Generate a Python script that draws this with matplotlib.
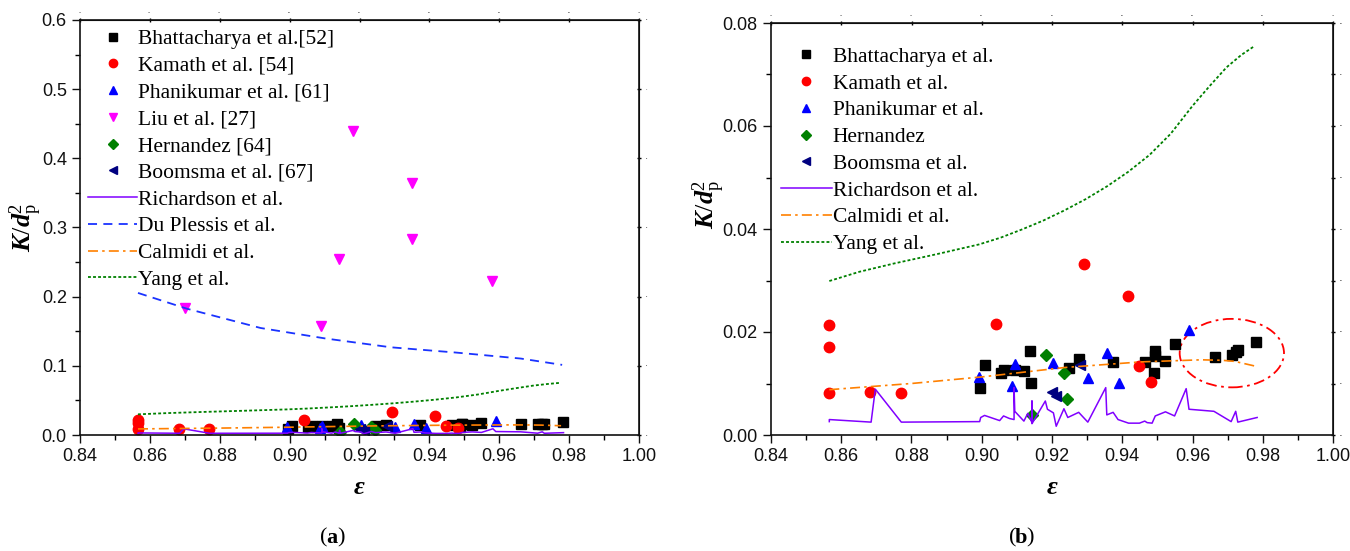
import matplotlib
matplotlib.use('Agg')
from matplotlib import pyplot as plt
from matplotlib.patches import Ellipse
from matplotlib.ticker import MultipleLocator, FormatStrFormatter

plt.rcParams['mathtext.fontset'] = 'custom'
plt.rcParams['mathtext.rm'] = 'Liberation Serif'
plt.rcParams['mathtext.it'] = 'Liberation Serif:italic'
plt.rcParams['mathtext.bf'] = 'Liberation Serif:bold'
plt.rcParams['mathtext.bfit'] = 'Liberation Serif:italic:bold'

# experimental data (porosity eps, K/dp^2)
eps_bh = [0.8994, 0.9008, 0.9054, 0.9063, 0.9094, 0.9120, 0.9136, 0.9141, 0.9248, 0.9276, 0.9374,
          0.9464, 0.9492, 0.9492, 0.9489, 0.9523, 0.9549, 0.9663, 0.9712, 0.9723, 0.9729, 0.9782]
k_bh = [0.0092, 0.0135, 0.0121, 0.0126, 0.0127, 0.0124, 0.0163, 0.0101, 0.0130, 0.0148, 0.0141,
        0.0141, 0.0163, 0.0153, 0.0121, 0.0143, 0.0177, 0.0152, 0.0156, 0.0161, 0.0166, 0.0181]

eps_ka = [0.8566, 0.8566, 0.8566, 0.8683, 0.8769, 0.9041, 0.9292, 0.9415, 0.9447, 0.9481]
k_ka = [0.0214, 0.0170, 0.0081, 0.0083, 0.0081, 0.0216, 0.0333, 0.0270, 0.0134, 0.0102]

eps_ph = [0.8992, 0.9087, 0.9094, 0.9203, 0.9302, 0.9356, 0.9390, 0.9590]
k_ph = [0.0113, 0.0095, 0.0137, 0.0139, 0.0111, 0.0159, 0.0101, 0.0203]

eps_liu = [0.8700, 0.9091, 0.9141, 0.9180, 0.9349, 0.9349, 0.9579]
k_liu = [0.183, 0.157, 0.254, 0.439, 0.364, 0.283, 0.222]

eps_he = [0.9143, 0.9183, 0.9233, 0.9244]
k_he = [0.0039, 0.0156, 0.0121, 0.0070]

eps_bo = [0.9200, 0.9212, 0.9280]
k_bo = [0.0083, 0.0075, 0.0135]

# correlations
eps_ri = [0.8566, 0.8566, 0.8685, 0.8697, 0.8771, 0.8994, 0.8997, 0.9008, 0.9051, 0.9062, 0.9079,
          0.9092, 0.9092, 0.9094, 0.9120, 0.9131, 0.9143, 0.9143, 0.9143, 0.9181, 0.9187, 0.9204,
          0.9212, 0.9234, 0.9245, 0.9276, 0.9302, 0.9353, 0.9356, 0.9374, 0.9388, 0.9418, 0.9449,
          0.9464, 0.9471, 0.9485, 0.9494, 0.9523, 0.9549, 0.9582, 0.9590, 0.9661, 0.9710, 0.9723,
          0.9729, 0.9784]
k_ri = [0.0026, 0.0030, 0.0025, 0.0089, 0.0025, 0.0026, 0.0034, 0.0038, 0.0028, 0.0037, 0.0032,
        0.0030, 0.0092, 0.0046, 0.0027, 0.0042, 0.0024, 0.0066, 0.0022, 0.0066, 0.0050, 0.0043,
        0.0017, 0.0051, 0.0034, 0.0044, 0.0025, 0.0092, 0.0039, 0.0044, 0.0030, 0.0023, 0.0023,
        0.0027, 0.0024, 0.0023, 0.0037, 0.0045, 0.0037, 0.0090, 0.0050, 0.0046, 0.0026, 0.0046,
        0.0025, 0.0034]

eps_du = [0.8566, 0.8706, 0.8917, 0.9103, 0.9290, 0.9476, 0.9662, 0.9780]
k_du = [0.2054, 0.1826, 0.1547, 0.1395, 0.1268, 0.1192, 0.1105, 0.1014]

eps_ca = [0.8566, 0.8800, 0.9003, 0.9235, 0.9454, 0.9625, 0.9685, 0.9720, 0.9777]
k_ca = [0.0088, 0.0100, 0.0113, 0.0131, 0.0142, 0.0146, 0.0145, 0.0143, 0.0134]

eps_ya = [0.8566, 0.8652, 0.8750, 0.8871, 0.8992, 0.9053, 0.9114, 0.9174, 0.9235, 0.9296,
          0.9357, 0.9417, 0.9478, 0.9538, 0.9600, 0.9648, 0.9697, 0.9739, 0.9776]
k_ya = [0.0299, 0.0317, 0.0333, 0.0351, 0.0370, 0.0383, 0.0399, 0.0416, 0.0436, 0.0458,
        0.0483, 0.0511, 0.0544, 0.0585, 0.0639, 0.0677, 0.0714, 0.0738, 0.0755]

# highlight ellipse in (b): centre, width, height
ell_xy = (0.9712, 0.0159)
ell_w, ell_h = 0.0297, 0.0133

serif = ['Liberation Serif', 'DejaVu Serif']
sans = ['Liberation Sans', 'DejaVu Sans']


def style_axes(ax, ymax, ymaj, yfmt, label_xy):
    ax.set_xlim(0.84, 1.00)
    ax.set_ylim(0, ymax)
    ax.xaxis.set_major_locator(MultipleLocator(0.02))
    ax.xaxis.set_minor_locator(MultipleLocator(0.01))
    ax.yaxis.set_major_locator(MultipleLocator(ymaj))
    ax.yaxis.set_minor_locator(MultipleLocator(ymaj / 2))
    ax.xaxis.set_major_formatter(FormatStrFormatter('%.2f'))
    ax.yaxis.set_major_formatter(FormatStrFormatter(yfmt))
    ax.tick_params(which='major', direction='out', length=6, width=1.0, labelsize=13, colors='#111111')
    ax.tick_params(which='minor', direction='out', length=3.5, width=1.0)
    for lab in ax.get_xticklabels() + ax.get_yticklabels():
        lab.set_family(sans)
    for s in ax.spines.values():
        s.set_linewidth(1.2)
        s.set_color('#111111')
    for sec in (ax.secondary_xaxis('top'), ax.secondary_yaxis('right')):
        sec.tick_params(which='both', direction='inout', length=3, width=1.0, labelsize=0)
    ax.set_xlabel('ε', family=serif, style='italic', weight='bold', fontsize=19, labelpad=8)
    ax.set_ylabel(r'$\mathbfit{K}/\mathbfit{d}_{\mathrm{p}}^{2}$', fontsize=19)
    ax.yaxis.set_label_coords(*label_xy)


def plot_data(ax, with_liu):
    ms = 7
    ax.plot(eps_bh, k_bh, 's', color='black', ms=ms - 0.5, label='Bhattacharya et al.[52]' if with_liu else 'Bhattacharya et al.')
    ax.plot(eps_ka, k_ka, 'o', color='#ff0000', ms=ms + 0.5, label='Kamath et al. [54]' if with_liu else 'Kamath et al.')
    ax.plot(eps_ph, k_ph, '^', color='#0000ff', ms=ms + 0.5, label='Phanikumar et al. [61]' if with_liu else 'Phanikumar et al.')
    if with_liu:
        ax.plot(eps_liu, k_liu, 'v', color='#ff00ff', ms=ms + 0.5, label='Liu et al. [27]')
    ax.plot(eps_he, k_he, 'D', color='#008000', ms=ms - 1, label='Hernandez [64]' if with_liu else 'Hernandez')
    ax.plot(eps_bo, k_bo, '<', color='#000080', ms=ms + 0.5, label='Boomsma et al. [67]' if with_liu else 'Boomsma et al.')
    ax.plot(eps_ri, k_ri, '-', color='#8000ff', lw=1.1, label='Richardson et al.')
    if with_liu:
        ax.plot(eps_du, k_du, '--', color='#1a33ff', lw=1.3, dashes=(5, 3.5), label='Du Plessis et al.')
    ax.plot(eps_ca, k_ca, '-.', color='#ff8000', lw=1.2, dashes=(6, 2.5, 1.5, 2.5), label='Calmidi et al.')
    ax.plot(eps_ya, k_ya, ':', color='#008000', lw=1.3, dashes=(1.6, 1.2), label='Yang et al.')


fig = plt.figure(figsize=(13.5, 5.51), dpi=100)
ax1 = fig.add_axes([80 / 1350, 1 - 435 / 551, 559 / 1350, 415 / 551])
ax2 = fig.add_axes([771 / 1350, 1 - 435 / 551, 562 / 1350, 412 / 551])

leg_kw = dict(loc='upper left', frameon=False, borderaxespad=0, borderpad=0,
              prop={'family': serif, 'size': 15.5}, handletextpad=0.05, labelspacing=0.31,
              markerscale=0.8)

plot_data(ax1, True)
style_axes(ax1, 0.6, 0.1, '%.1f', (-0.064, 0.5))
ax1.legend(bbox_to_anchor=(0.014, 0.978), handlelength=2.3, **leg_kw)

plot_data(ax2, False)
style_axes(ax2, 0.08, 0.02, '%.2f', (-0.078, 0.56))
ax2.add_patch(Ellipse(ell_xy, ell_w, ell_h, fill=False, ec='#ff0000', lw=1.3, ls=(0, (6, 2.5, 1.5, 2.5))))
ax2.legend(bbox_to_anchor=(0.018, 0.942), handlelength=2.35, **leg_kw)

for x0, lab in ((332, 'a'), (1021, 'b')):
    fig.text(x0 / 1350, 1 - 538 / 551, lab, family=serif, weight='bold', fontsize=16, ha='center', va='center')
    fig.text((x0 - 5) / 1350, 1 - 538 / 551, '(', family=serif, fontsize=16, ha='right', va='center')
    fig.text((x0 + 5.5) / 1350, 1 - 538 / 551, ')', family=serif, fontsize=16, ha='left', va='center')

fig.savefig('out.png', dpi=100)
